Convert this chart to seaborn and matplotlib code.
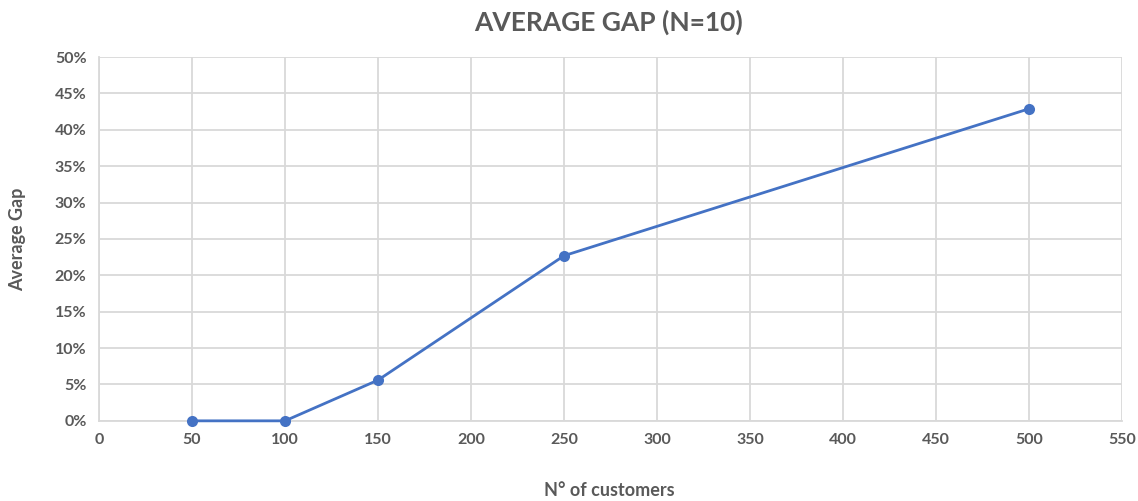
import matplotlib
matplotlib.use("Agg")
import matplotlib.pyplot as plt
import seaborn as sns
import pandas as pd
from matplotlib.ticker import FuncFormatter, MultipleLocator

# Average optimality gap per instance size
customers = [50, 100, 150, 250, 500]
avg_gap = [0.0, 0.0, 5.6, 22.7, 42.9]  # percent

df = pd.DataFrame({"customers": customers, "gap": avg_gap})

sns.set_theme(style="white")
plt.rcParams["font.family"] = ["Lato", "DejaVu Sans"]

text_color = "#595959"
grid_color = "#d9d9d9"
line_color = "#4472C4"

fig = plt.figure(figsize=(11.38, 5.01), dpi=100)
ax = fig.add_axes([0.087, 0.16, 0.899, 0.726])

sns.lineplot(data=df, x="customers", y="gap", ax=ax, color=line_color,
             linewidth=2, marker="o", markersize=8, markeredgewidth=0,
             zorder=3, clip_on=False)

ax.set_xlim(0, 550)
ax.set_ylim(0, 50)
ax.xaxis.set_major_locator(MultipleLocator(50))
ax.yaxis.set_major_locator(MultipleLocator(5))
ax.yaxis.set_major_formatter(FuncFormatter(lambda v, _: f"{v:.0f}%"))

ax.grid(True, color=grid_color, linewidth=1.3)
ax.set_axisbelow(True)
for side in ("top", "right"):
    ax.spines[side].set_visible(False)
for side in ("left", "bottom"):
    ax.spines[side].set_color(grid_color)
    ax.spines[side].set_linewidth(1.3)

ax.tick_params(axis="both", length=0, colors=text_color, labelsize=11.5, pad=9)
for lbl in ax.get_xticklabels() + ax.get_yticklabels():
    lbl.set_fontweight("bold")

ax.set_xlabel("")
ax.set_ylabel("")
fig.text(0.535, 1 - 490 / 501, "N° of customers", ha="center", va="center",
         fontsize=13, fontweight="bold", color=text_color)
fig.text(18 / 1138, 1 - 239 / 501, "Average Gap", ha="center", va="center",
         rotation=90, fontsize=13, fontweight="bold", color=text_color)

fig.text(0.535, 1 - 22 / 501, "AVERAGE GAP (N=10)", ha="center", va="center",
         fontsize=19, fontweight="bold", color=text_color)

fig.savefig("out.png", dpi=100)
